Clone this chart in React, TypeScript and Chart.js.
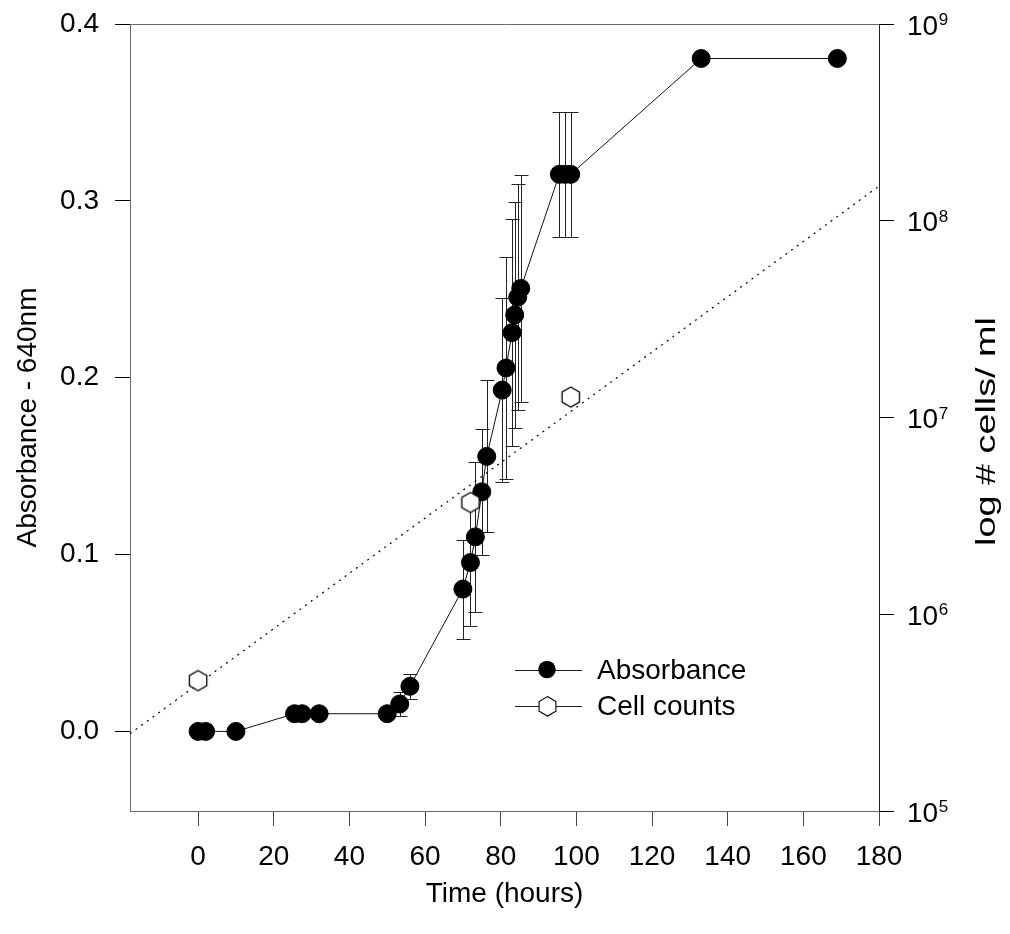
import React, { useEffect, useRef } from 'react';
import { Chart, registerables } from 'chart.js';

Chart.register(...registerables);

// ---- Data ----
const timeHours = [0, 2, 10, 25.5, 27.5, 32, 50, 53.3, 56, 70, 72, 73.3, 75, 76.3, 80.4, 81.4, 83, 83.7, 84.5, 85.3, 95.5, 97, 98.5, 133, 169];
const absorbance = [0, 0, 0, 0.01, 0.01, 0.01, 0.01, 0.0155, 0.0255, 0.0805, 0.0955, 0.11, 0.1355, 0.1555, 0.193, 0.2055, 0.2255, 0.2355, 0.2455, 0.2505, 0.315, 0.315, 0.315, 0.3805, 0.3805];
const absorbanceErr = [0, 0, 0, 0, 0, 0, 0, 0.007, 0.007, 0.028, 0.036, 0.0425, 0.0355, 0.043, 0.052, 0.063, 0.064, 0.064, 0.064, 0.064, 0.0355, 0.0355, 0.0355, 0, 0];
const cellTimes = [0, 72, 98.5];
const cellCounts = [4.6e5, 3.7e6, 1.27e7];
const fitTimes = [-18, 180];
const fitCounts = [2.47e5, 1.5e8];
const xTicks = [0, 20, 40, 60, 80, 100, 120, 140, 160, 180];
const yTicks = [0, 0.1, 0.2, 0.3, 0.4];
const y2Ticks = [1e5, 1e6, 1e7, 1e8, 1e9];

const FONT = '"Liberation Sans", Arial, Helvetica, sans-serif';
const AXIS_GRAY = '#6a6a6a';

function makeHexagon(r: number): HTMLCanvasElement {
  const size = Math.ceil(r * 2 + 4);
  const c = document.createElement('canvas');
  c.width = size;
  c.height = size;
  const g = c.getContext('2d')!;
  traceHex(g, size / 2, size / 2, r);
  g.fillStyle = '#fff';
  g.fill();
  g.strokeStyle = '#000';
  g.lineWidth = 1.3;
  g.stroke();
  return c;
}

function traceHex(g: CanvasRenderingContext2D, cx: number, cy: number, r: number) {
  g.beginPath();
  for (let k = 0; k < 6; k++) {
    const a = -Math.PI / 2 + (k * Math.PI) / 3;
    const px = cx + r * Math.cos(a);
    const py = cy + r * Math.sin(a);
    if (k === 0) g.moveTo(px, py);
    else g.lineTo(px, py);
  }
  g.closePath();
}

const errorBarPlugin = {
  id: 'errorBars',
  beforeDatasetsDraw(chart: any) {
    const { ctx, scales } = chart;
    const x = scales.x;
    const y = scales.y;
    ctx.save();
    ctx.strokeStyle = '#222';
    ctx.lineWidth = 1;
    timeHours.forEach((t, i) => {
      const e = absorbanceErr[i];
      if (!e) return;
      const px = Math.round(x.getPixelForValue(t)) + 0.5;
      const top = Math.round(y.getPixelForValue(absorbance[i] + e)) + 0.5;
      const bot = Math.round(y.getPixelForValue(absorbance[i] - e)) + 0.5;
      ctx.beginPath();
      ctx.moveTo(px, top);
      ctx.lineTo(px, bot);
      ctx.moveTo(px - 7, top);
      ctx.lineTo(px + 7, top);
      ctx.moveTo(px - 7, bot);
      ctx.lineTo(px + 7, bot);
      ctx.stroke();
    });
    ctx.restore();
  },
};

const decorPlugin = {
  id: 'decor',
  afterDraw(chart: any) {
    const { ctx, chartArea, scales } = chart;
    const y2 = scales.y2;
    ctx.save();
    // top frame line
    ctx.strokeStyle = AXIS_GRAY;
    ctx.lineWidth = 1;
    ctx.beginPath();
    ctx.moveTo(chartArea.left, Math.round(chartArea.top) + 0.5);
    ctx.lineTo(chartArea.right, Math.round(chartArea.top) + 0.5);
    ctx.stroke();

    // right axis labels 10^n
    ctx.fillStyle = '#000';
    ctx.textAlign = 'left';
    ctx.textBaseline = 'alphabetic';
    y2Ticks.forEach((v) => {
      const py = y2.getPixelForValue(v);
      const x0 = chartArea.right + 28;
      ctx.font = `28px ${FONT}`;
      ctx.fillText('10', x0, py + 10.5);
      const w = ctx.measureText('10').width;
      ctx.font = `17px ${FONT}`;
      ctx.fillText(String(Math.round(Math.log10(v))), x0 + w + 0.5, py + 1);
    });

    // axis titles
    ctx.font = `28px ${FONT}`;
    ctx.textAlign = 'center';
    ctx.fillText('Time (hours)', (chartArea.left + chartArea.right) / 2, 902);

    const midY = (chartArea.top + chartArea.bottom) / 2;
    ctx.save();
    ctx.translate(36, midY);
    ctx.rotate(-Math.PI / 2);
    ctx.fillText('Absorbance - 640nm', 0, 0);
    ctx.restore();

    ctx.save();
    ctx.translate(995, midY + 14);
    ctx.rotate(-Math.PI / 2);
    ctx.scale(1.35, 1);
    ctx.fillText('log # cells/ ml', 0, 0);
    ctx.restore();

    // legend
    const rows = [669.5, 705.5];
    ctx.strokeStyle = '#222';
    ctx.lineWidth = 1;
    rows.forEach((ry) => {
      ctx.beginPath();
      ctx.moveTo(515, Math.round(ry) + 0.5);
      ctx.lineTo(582, Math.round(ry) + 0.5);
      ctx.stroke();
    });
    ctx.beginPath();
    ctx.arc(547, rows[0], 8.7, 0, Math.PI * 2);
    ctx.fillStyle = '#000';
    ctx.fill();
    traceHex(ctx, 547.5, rows[1] + 0.8, 9.7);
    ctx.fillStyle = '#fff';
    ctx.fill();
    ctx.strokeStyle = '#000';
    ctx.lineWidth = 1.1;
    ctx.stroke();
    ctx.fillStyle = '#000';
    ctx.font = `28px ${FONT}`;
    ctx.textAlign = 'left';
    ctx.fillText('Absorbance', 597, rows[0] + 9);
    ctx.fillText('Cell counts', 597, rows[1] + 9);
    ctx.restore();
  },
};

export default function App() {
  const ref = useRef<HTMLCanvasElement>(null);

  useEffect(() => {
    const hex = makeHexagon(10);
    const chart = new Chart(ref.current!, {
      type: 'scatter',
      data: {
        datasets: [
          {
            label: 'Cell counts',
            data: cellTimes.map((t, i) => ({ x: t, y: cellCounts[i] })),
            yAxisID: 'y2',
            pointStyle: hex as any,
            pointRadius: 10,
            showLine: false,
          },
          {
            label: 'Absorbance',
            data: timeHours.map((t, i) => ({ x: t, y: absorbance[i] })),
            yAxisID: 'y',
            showLine: true,
            borderColor: '#111',
            borderWidth: 1,
            pointRadius: 9,
            pointBorderWidth: 1,
            pointBackgroundColor: '#000',
            pointBorderColor: '#000',
          },
          {
            label: 'fit',
            data: fitTimes.map((t, i) => ({ x: t, y: fitCounts[i] })),
            yAxisID: 'y2',
            showLine: true,
            borderColor: '#000',
            borderWidth: 1.2,
            borderDash: [2, 5],
            pointRadius: 0,
          },
        ],
      },
      options: {
        responsive: false,
        devicePixelRatio: 1,
        animation: false,
        layout: { padding: { top: 24, left: 0, right: 0, bottom: 0 } },
        plugins: { legend: { display: false }, tooltip: { enabled: false } },
        scales: {
          x: {
            type: 'linear',
            min: -18,
            max: 180,
            afterBuildTicks: (s: any) => {
              s.ticks = xTicks.map((v) => ({ value: v }));
            },
            afterFit: (s: any) => {
              s.height = 123;
              s.paddingLeft = 0;
              s.paddingRight = 0;
            },
            ticks: {
              font: { family: FONT, size: 28 },
              color: '#000',
              padding: 14,
              callback: (v: any) => String(v),
            },
            grid: { drawOnChartArea: false, drawTicks: true, tickLength: 15, tickColor: '#444' },
            border: { display: true, color: AXIS_GRAY, width: 1 },
            title: { display: false },
          },
          y: {
            type: 'linear',
            position: 'left',
            min: -0.045,
            max: 0.4,
            afterBuildTicks: (s: any) => {
              s.ticks = yTicks.map((v) => ({ value: v }));
            },
            afterFit: (s: any) => {
              s.width = 130;
              s.paddingTop = 0;
              s.paddingBottom = 0;
            },
            ticks: {
              font: { family: FONT, size: 28 },
              color: '#000',
              padding: 16,
              callback: (v: any) => Number(v).toFixed(1),
            },
            grid: { drawOnChartArea: false, drawTicks: true, tickLength: 15, tickColor: '#000' },
            border: { display: true, color: AXIS_GRAY, width: 1 },
          },
          y2: {
            type: 'logarithmic',
            position: 'right',
            min: 1e5,
            max: 1e9,
            afterBuildTicks: (s: any) => {
              s.ticks = y2Ticks.map((v) => ({ value: v }));
            },
            afterFit: (s: any) => {
              s.width = 131;
              s.paddingTop = 0;
              s.paddingBottom = 0;
            },
            ticks: { display: false },
            grid: { drawOnChartArea: false, drawTicks: true, tickLength: 15, tickColor: '#000' },
            border: { display: true, color: '#222', width: 1 },
          },
        },
      },
      plugins: [errorBarPlugin, decorPlugin],
    } as any);
    return () => chart.destroy();
  }, []);

  return (
    <div style={{ position: 'absolute', left: 0, top: 0, width: 1010, height: 934, background: '#fff' }}>
      <canvas ref={ref} width={1010} height={934} style={{ display: 'block', width: 1010, height: 934 }} />
    </div>
  );
}
